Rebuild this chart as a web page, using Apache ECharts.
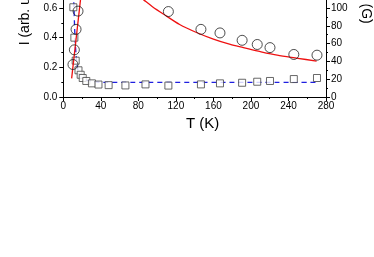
<!DOCTYPE html>
<html><head><meta charset="utf-8">
<script src="https://cdn.jsdelivr.net/npm/echarts@6/dist/echarts.min.js"></script>
<style>html,body{margin:0;padding:0;background:#fff;overflow:hidden}body{width:374px;height:257px;position:relative}#c{width:374px;height:338px;position:absolute;left:0;top:-81px}</style>
</head><body><div id="c"></div>
<script>
// Circles: linewidth (G), right axis
const circleT = [10.3, 11.8, 13.6, 15.7, 112, 146.7, 167, 190.6, 206.7, 220.3, 245.7, 270.4];
const circleG = [36.5, 53, 76, 96.5, 96, 76, 72, 63.7, 59, 55.5, 47.8, 47];
// Squares: intensity (arb. units), left axis
const squareT = [10.7, 11.8, 13.2, 16.2, 18.5, 20.7, 24.5, 30.5, 37.5, 48.3, 66.2, 87.6, 112, 146.7, 167, 190.6, 206.7, 220.3, 245.7, 270.4];
const squareI = [0.605, 0.40, 0.245, 0.18, 0.15, 0.128, 0.108, 0.092, 0.084, 0.08, 0.078, 0.085, 0.077, 0.085, 0.092, 0.096, 0.103, 0.108, 0.121, 0.128];
// Red fit (right axis): low-T branch and high-T branch
const redLowT = [8.9, 18.2, 22];
const redLowG = [21, 108, 143];
const redHighT = [80, 87, 95, 107, 124, 142, 160, 178, 192, 210, 228, 250, 270];
const redHighG = [114, 108, 101.5, 93, 81.5, 72.5, 65, 59, 55.5, 51, 47, 43.5, 40.3];
// Blue dashed fit (left axis)
const blueT = [10.8, 11.4, 12, 12.8, 13.8, 15, 17, 20, 25, 32, 42, 270];
const blueI = [0.7, 0.6, 0.48, 0.36, 0.27, 0.2, 0.155, 0.13, 0.113, 0.104, 0.099, 0.099];
// Axis settings
const xTicks = {min: 0, max: 280, interval: 40};
const leftTicks = {min: 0, max: 1.2, interval: 0.2};
const rightTicks = {min: 0, max: 200, interval: 20};

const zip = (a, b) => a.map((v, i) => [v, b[i]]);
const font = 'Liberation Sans, Arial, sans-serif';
const axisCommon = {
  axisLine: {show: true, onZero: false, lineStyle: {color: '#000', width: 1}},
  axisTick: {show: true, inside: false, length: 4, lineStyle: {color: '#000'}},
  minorTick: {show: true, splitNumber: 2, length: 2, lineStyle: {color: '#000'}},
  splitLine: {show: false},
  axisLabel: {color: '#000', fontSize: 10, fontFamily: font},
};
const chart = echarts.init(document.getElementById('c'), null, {renderer: 'canvas'});
chart.setOption({
  animation: false,
  backgroundColor: '#fff',
  grid: {left: 63.3, right: 48, top: 0, bottom: 160, containLabel: false, outerBoundsMode: 'none'},
  xAxis: Object.assign({}, axisCommon, {
    type: 'value', min: xTicks.min, max: xTicks.max, interval: xTicks.interval,
    name: 'T (K)', nameLocation: 'middle', nameGap: 17,
    nameTextStyle: {color: '#000', fontSize: 15, fontFamily: font, padding: [0, 0, 0, 16]},
    axisLabel: Object.assign({}, axisCommon.axisLabel, {margin: 4})
  }),
  yAxis: [
    Object.assign({}, axisCommon, {
      type: 'value', position: 'left', min: leftTicks.min, max: leftTicks.max, interval: leftTicks.interval,
      name: 'I (arb. units)', nameLocation: 'middle', nameGap: 24,
      nameTextStyle: {color: '#000', fontSize: 14, fontFamily: font},
      axisLabel: Object.assign({}, axisCommon.axisLabel, {margin: 6, formatter: v => v.toFixed(1)})
    }),
    Object.assign({}, axisCommon, {
      type: 'value', position: 'right', min: rightTicks.min, max: rightTicks.max, interval: rightTicks.interval,
      name: 'ΔH (G)', nameLocation: 'middle', nameGap: 29, nameRotate: -90,
      nameTextStyle: {color: '#000', fontSize: 14, fontFamily: font, padding: [0, 12, 0, 0]},
      axisLabel: Object.assign({}, axisCommon.axisLabel, {margin: 5})
    })
  ],
  series: [
    {type: 'line', yAxisIndex: 0, data: zip(blueT, blueI), showSymbol: false, smooth: 0.3,
     lineStyle: {color: '#1f1fe0', width: 1.3, type: [5, 4]}, z: 2},
    {type: 'scatter', yAxisIndex: 0, data: zip(squareT, squareI), symbol: 'rect', symbolSize: 7,
     itemStyle: {color: '#fff', borderColor: '#444', borderWidth: 1}, z: 3},
    {type: 'line', yAxisIndex: 1, data: zip(redLowT, redLowG), showSymbol: false,
     lineStyle: {color: '#ee1111', width: 1.3}, z: 4},
    {type: 'line', yAxisIndex: 1, data: zip(redHighT, redHighG), showSymbol: false, smooth: 0.3,
     lineStyle: {color: '#ee1111', width: 1.3}, z: 4},
    {type: 'scatter', yAxisIndex: 1, data: zip(circleT, circleG), symbol: 'circle', symbolSize: 10,
     itemStyle: {color: 'rgba(255,255,255,0)', borderColor: '#222', borderWidth: 1}, z: 5}
  ]
});
</script></body></html>
